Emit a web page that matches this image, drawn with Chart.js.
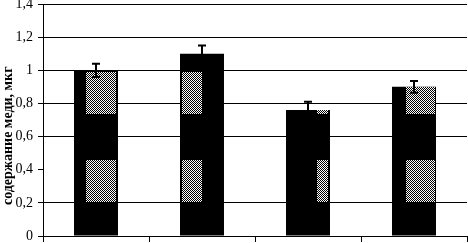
<!DOCTYPE html>
<html>
<head>
<meta charset="utf-8">
<script src="https://cdn.jsdelivr.net/npm/chart.js@4.4.0/dist/chart.umd.min.js"></script>
<style>
    html, body { margin: 0; padding: 0; background: #fff; }
    #wrap { width: 468px; height: 243px; }
</style>
</head>
<body>
<div id="wrap"><canvas id="chartBar"></canvas></div>
<script>
var groups = ["1", "2", "3", "4"];
var copper = [1.0, 1.1, 0.76, 0.9];
var copperErr = [0.04, 0.05, 0.05, 0.035];
var yTicks = [0, 0.2, 0.4, 0.6, 0.8, 1, 1.2, 1.4];

// dithered grey used for the scanned-looking patches on the bars
function ditherPattern(ctx) {
    var c = document.createElement('canvas');
    c.width = 2; c.height = 2;
    var p = c.getContext('2d');
    p.fillStyle = '#fff'; p.fillRect(0, 0, 2, 2);
    p.fillStyle = '#000'; p.fillRect(0, 0, 1, 1); p.fillRect(1, 1, 1, 1);
    return ctx.createPattern(c, 'repeat');
}

// texture bands (value ranges) and horizontal parts of each bar
var texBands = [[0.205, 0.46], [0.736, 0.99]];
var texFrom = [0.27, 0.04, 0.7, 0.32];
var texTo = [0.95, 0.5, 0.95, 0.98];

var barTexture = {
    id: 'barTexture',
    afterDatasetsDraw: function (chart) {
        var ctx = chart.ctx;
        var y = chart.scales.y;
        var meta = chart.getDatasetMeta(0);
        ctx.save();
        ctx.fillStyle = ditherPattern(ctx);
        meta.data.forEach(function (bar, i) {
            var left = bar.x - bar.width / 2;
            texBands.forEach(function (b) {
                var hi = Math.min(b[1], copper[i]);
                if (hi <= b[0]) return;
                var x1 = Math.round(left + bar.width * texFrom[i]);
                var x2 = Math.round(left + bar.width * texTo[i]);
                var y1 = Math.round(y.getPixelForValue(hi));
                var y2 = Math.round(y.getPixelForValue(b[0]));
                ctx.fillRect(x1, y1, x2 - x1, y2 - y1);
            });
        });
        // error bars
        ctx.strokeStyle = '#000';
        ctx.lineWidth = 2;
        meta.data.forEach(function (bar, i) {
            var x = Math.round(bar.x);
            var top = y.getPixelForValue(copper[i] + copperErr[i]);
            var bot = y.getPixelForValue(copper[i] - copperErr[i]);
            ctx.beginPath();
            ctx.moveTo(x, top); ctx.lineTo(x, bot);
            ctx.moveTo(x - 4, top); ctx.lineTo(x + 4, top);
            ctx.moveTo(x - 4, bot); ctx.lineTo(x + 4, bot);
            ctx.stroke();
        });
        ctx.restore();
    }
};

var ourBar = document.getElementById('chartBar');

var barChart = new Chart(ourBar, {
    type: 'bar',
    data: {
        labels: groups,
        datasets: [
            {
                label: 'содержание меди',
                data: copper,
                backgroundColor: '#000',
                borderWidth: 0,
                categoryPercentage: 1,
                barPercentage: 0.415
            }
        ]
    },
    options: {
        responsive: true,
        maintainAspectRatio: false,
        animation: false,
        layout: { padding: { top: 4, right: 1, bottom: 1, left: 0 } },
        plugins: {
            legend: { display: false },
            tooltip: { enabled: false }
        },
        scales: {
            x: {
                offset: true,
                afterFit: function (axis) {
                    axis.height = 6;
                    axis.paddingLeft = 0;
                    axis.paddingRight = 0;
                },
                grid: {
                    offset: true,
                    drawOnChartArea: false,
                    drawTicks: true,
                    tickLength: 6,
                    color: '#000',
                    lineWidth: 1
                },
                border: { color: '#000', width: 1 },
                ticks: { display: false }
            },
            y: {
                min: 0,
                max: 1.4,
                afterBuildTicks: function (axis) {
                    axis.ticks = yTicks.map(function (v) { return { value: v }; });
                },
                afterFit: function (axis) {
                    axis.width = 43;
                    axis.paddingTop = 0;
                    axis.paddingBottom = 0;
                },
                grid: {
                    color: function (c) { return c.tick && c.tick.value === 0.4 ? 'rgba(0,0,0,0)' : '#000'; },
                    tickColor: '#000',
                    tickLength: 5,
                    lineWidth: 1
                },
                border: { color: '#000', width: 1 },
                ticks: {
                    color: '#000',
                    padding: 5,
                    font: { family: 'Liberation Serif', size: 14 },
                    callback: function (v) { return String(Math.round(v * 10) / 10).replace('.', ','); }
                },
                title: {
                    display: true,
                    text: 'содержание меди, мкг\u00a0\u00a0\u00a0\u00a0\u00a0\u00a0\u00a0\u00a0\u00a0',
                    color: '#000',
                    padding: 0,
                    font: { family: 'Liberation Serif', size: 14, weight: 'bold' }
                }
            }
        }
    },
    plugins: [barTexture]
});
</script>
</body>
</html>
